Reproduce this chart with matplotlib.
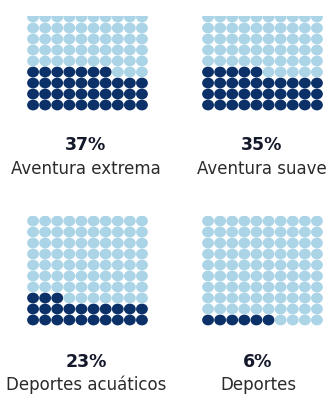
import matplotlib
matplotlib.use("Agg")
import matplotlib.pyplot as plt
from matplotlib.patches import Ellipse

# Share of travellers by type of activity
categories = ["Aventura extrema", "Aventura suave", "Deportes acuáticos", "Deportes"]
percentages = [37, 35, 23, 6]
pct_labels = ["37%", "35%", "23%", "6%"]

DARK = "#0c3169"
LIGHT = "#acd4e7"
TEXT_PCT = "#14182b"
TEXT_LBL = "#2b2b2b"

W, H = 329, 394
fig = plt.figure(figsize=(W / 100, H / 100), dpi=100)
fig.patch.set_facecolor("white")


def px_axes(left, top, width, height):
    """Axes placed in pixel coordinates measured from the top-left corner."""
    return fig.add_axes([left / W, (H - top - height) / H, width / W, height / H])


ROWS, COLS = 10, 10
# (left, grid top, grid bottom, visible top) in pixels for each panel
panels = [
    (27, 0.5, 110.5, 16),
    (202, 0.5, 110.5, 16),
    (27, 215.5, 325.5, 215.5),
    (202, 215.5, 325.5, 215.5),
]
label_pos = [
    (86, 145, 169),
    (262, 145, 169),
    (86, 362, 385),
    (258, 362, 385),
]

for i, (left, gtop, gbot, vtop) in enumerate(panels):
    cell_h = (gbot - gtop) / ROWS
    ax = px_axes(left, vtop, 121, gbot - vtop)
    ax.set_xlim(-0.5, COLS - 0.5)
    hidden = (vtop - gtop) / cell_h
    ax.set_ylim(-0.5, ROWS - 0.5 - hidden)
    ax.axis("off")
    filled = percentages[i]
    for k in range(ROWS * COLS):
        r, c = divmod(k, COLS)
        color = DARK if k < filled else LIGHT
        ax.add_patch(Ellipse((c, r), 0.98, 0.98, facecolor=color,
                             edgecolor="none", clip_on=True))

    cx, y_pct, y_lbl = label_pos[i]
    fig.text(cx / W, 1 - y_pct / H, pct_labels[i], ha="center", va="center",
             fontsize=12.5, fontweight="bold", color=TEXT_PCT,
             family="DejaVu Sans")
    fig.text(cx / W, 1 - y_lbl / H, categories[i], ha="center", va="center",
             fontsize=12, color=TEXT_LBL, family="DejaVu Sans")

fig.savefig("out.png", dpi=100, facecolor="white")
